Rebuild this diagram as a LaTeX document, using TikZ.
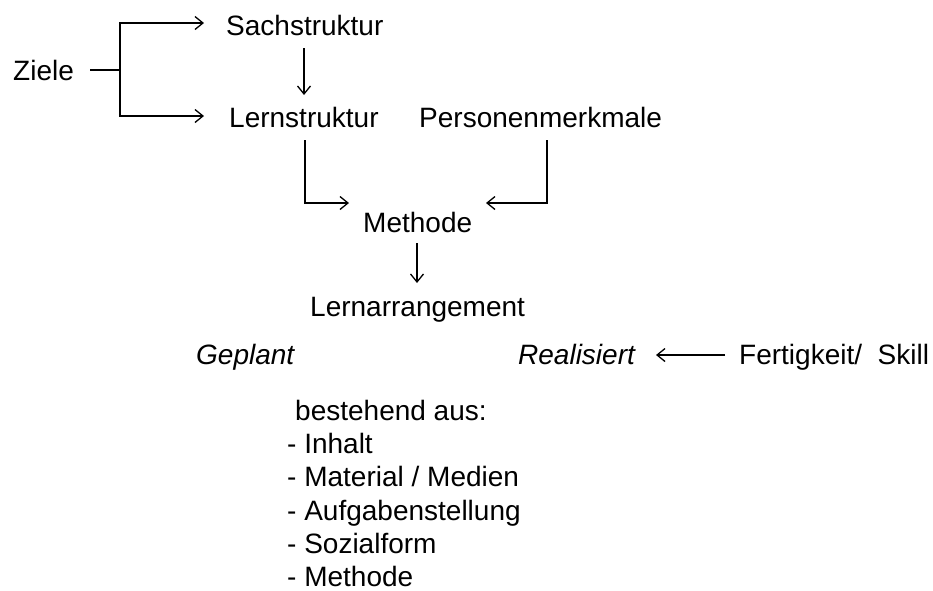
\documentclass[tikz,border=0pt]{standalone}
\usepackage{fontspec}
\setmainfont{Liberation Sans}
\usetikzlibrary{arrows.meta}
\begin{document}
\begin{tikzpicture}[x=1pt,y=-1pt,
  lbl/.style={anchor=base west,inner sep=0pt,font=\fontsize{28}{34}\selectfont},
  ilbl/.style={lbl,font=\fontsize{28}{34}\selectfont\itshape},
  conn/.style={line width=1.3pt},
  arr/.style={conn,-{Straight Barb[length=8pt,width=13pt,line width=1.3pt]}}]
\useasboundingbox (0,0) rectangle (933,590);
\node[lbl] (ziele) at (13,80) {Ziele};
\node[lbl] (sach) at (226,35) {Sachstruktur};
\node[lbl] (lern) at (229,127) {Lernstruktur};
\node[lbl] (pers) at (419,127) {Personenmerkmale};
\node[lbl] (meth) at (363,232) {Methode};
\node[lbl] (arr) at (310,316) {Lernarrangement};
\node[ilbl] (gepl) at (196,364) {Geplant};
\node[ilbl] (real) at (518,364) {Realisiert};
\node[lbl] (fert) at (739,364) {Fertigkeit/\ \ Skill};
\node[lbl] (best) at (295,420) {bestehend aus:};
\node[lbl] (l1) at (287,453) {- Inhalt};
\node[lbl] (l2) at (287,486.5) {- Material / Medien};
\node[lbl] (l3) at (287,520) {- Aufgabenstellung};
\node[lbl] (l4) at (287,553) {- Sozialform};
\node[lbl] (l5) at (287,586.5) {- Methode};
\coordinate (zs) at (90,70);
\coordinate (zb) at (120,70);
\draw[conn] (zs) -- (zb);
\draw[arr] (zb) |- ([xshift=-22pt]sach.west |- 0,23);
\draw[arr] (zb) |- ([xshift=-25pt]lern.west |- 0,116);
\draw[arr] (304,48) -- (304,95);
\draw[arr] (305,140) |- (349,203);
\draw[arr] (547,140) |- (486,203);
\draw[arr] (417,243) -- (417,283);
\draw[arr] (725,355) -- (656,355);
\end{tikzpicture}
\end{document}
